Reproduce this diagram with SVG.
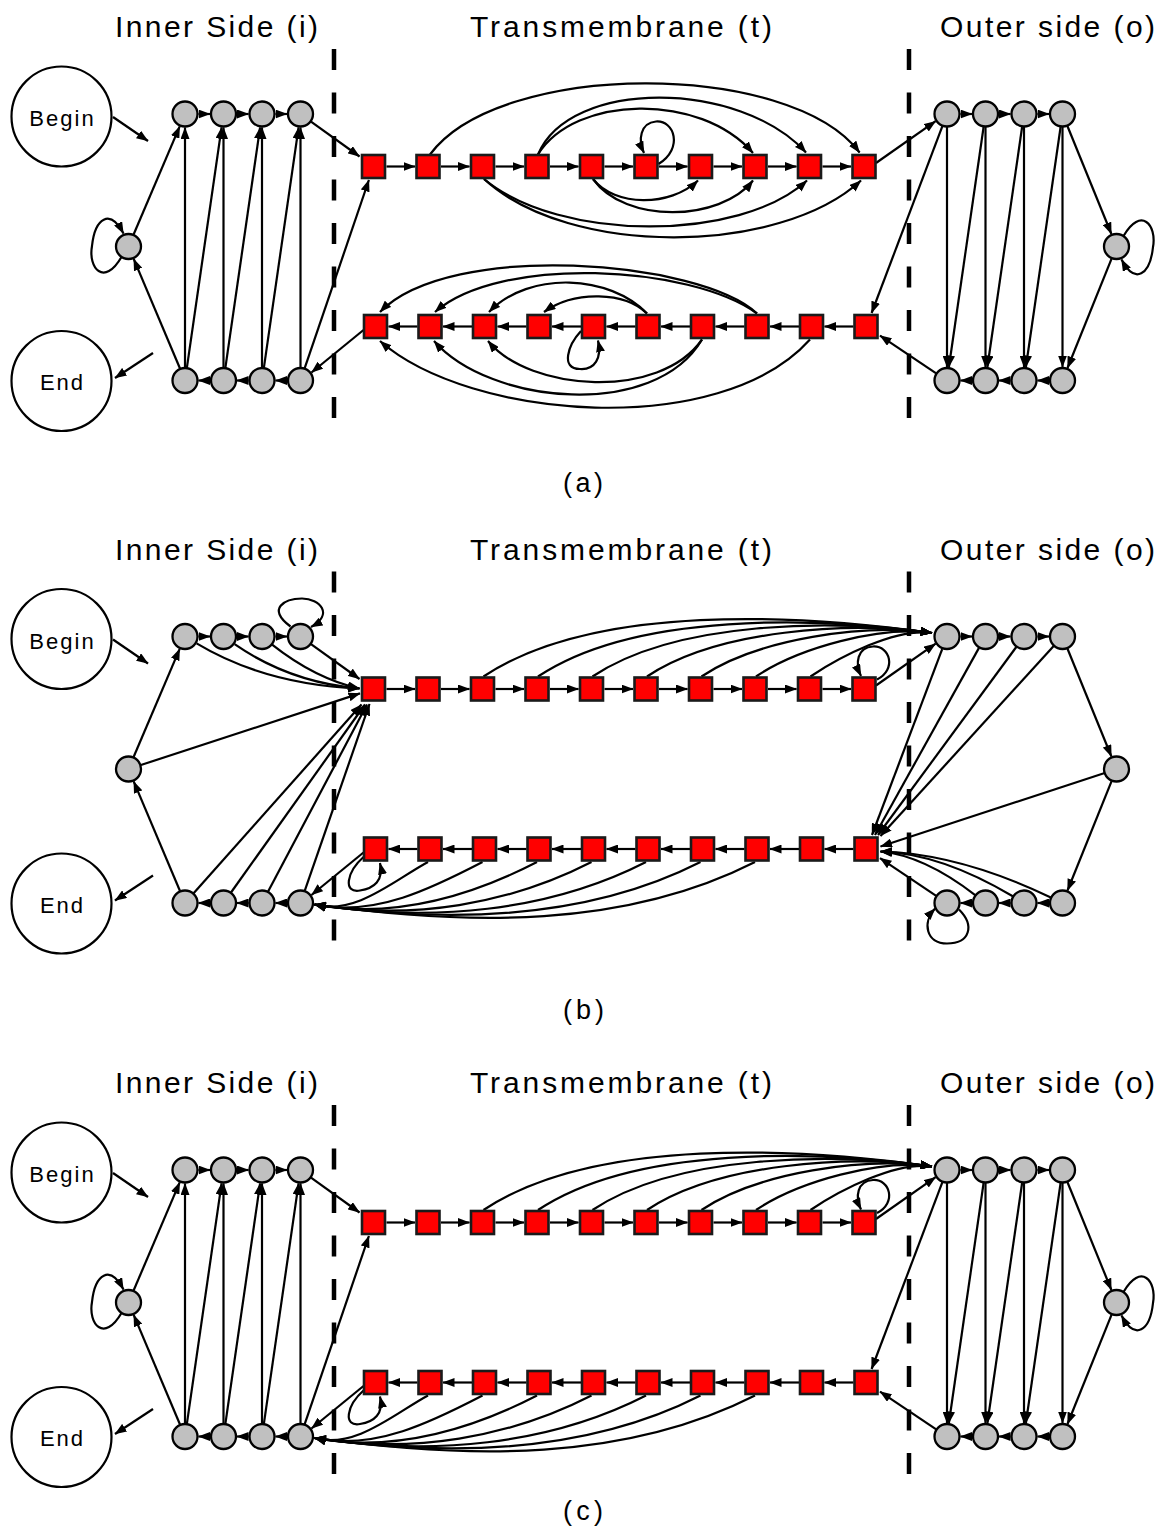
<svg xmlns="http://www.w3.org/2000/svg" width="1160" height="1527" viewBox="0 0 1160 1527">
<defs>
<marker id="ah" viewBox="0 0 12 9" refX="11.5" refY="4.5" markerWidth="12" markerHeight="9" markerUnits="userSpaceOnUse" orient="auto"><path d="M0,0 L12,4.5 L0,9 z" fill="#000"/></marker>
<style>
.e{fill:none;stroke:#000;stroke-width:2.2;marker-end:url(#ah)}
.c{fill:#c0c0c0;stroke:#000;stroke-width:2.3}
.s{fill:#f00;stroke:#1a1a1a;stroke-width:2.6}
.b{fill:#fff;stroke:#000;stroke-width:2.2}
.d{stroke:#000;stroke-width:4.5;stroke-dasharray:21 22.5}
.t{font-family:"Liberation Sans",Arial,sans-serif;fill:#000}
.h{font-size:30px}
.n{font-size:22px;letter-spacing:2px}
</style>
</defs>
<rect width="1160" height="1527" fill="#fff"/>

<!-- ===================== PANEL A ===================== -->
<g id="panel-a">
<line class="d" x1="334" y1="49" x2="334" y2="418"/>
<line class="d" x1="909" y1="49" x2="909" y2="418"/>
<text class="t h" x="115" y="37" textLength="203" lengthAdjust="spacing">Inner Side (i)</text>
<text class="t h" x="470" y="37" textLength="302" lengthAdjust="spacing">Transmembrane (t)</text>
<text class="t h" x="940" y="37" textLength="215" lengthAdjust="spacing">Outer side (o)</text>
<g id="a-edges">
<line class="e" x1="113" y1="117" x2="148" y2="141"/>
<line class="e" x1="153" y1="353" x2="115" y2="378"/>
<line class="e" x1="198.5" y1="114" x2="210" y2="114"/>
<line class="e" x1="237" y1="114" x2="248.5" y2="114"/>
<line class="e" x1="275.5" y1="114" x2="287" y2="114"/>
<line class="e" x1="210" y1="380.5" x2="198.5" y2="380.5"/>
<line class="e" x1="248.5" y1="380.5" x2="237" y2="380.5"/>
<line class="e" x1="287" y1="380.5" x2="275.5" y2="380.5"/>
<line class="e" x1="133.6" y1="234.5" x2="179.7" y2="126.4"/>
<line class="e" x1="180" y1="368.5" x2="133.7" y2="258.9"/>
<path class="e" d="M121.5,257 C104,287 88,268 92,246 C95,218 110,208 123.5,233.5"/>
<line class="e" x1="185" y1="367.5" x2="185" y2="127.5"/>
<line class="e" x1="223.5" y1="367.5" x2="223.5" y2="127.5"/>
<line class="e" x1="262" y1="367.5" x2="262" y2="127.5"/>
<line class="e" x1="300.5" y1="367.5" x2="300.5" y2="127.5"/>
<line class="e" x1="186.9" y1="367.6" x2="221.6" y2="127.4"/>
<line class="e" x1="225.4" y1="367.6" x2="260.1" y2="127.4"/>
<line class="e" x1="263.9" y1="367.6" x2="298.6" y2="127.4"/>
<line class="e" x1="304.7" y1="368.2" x2="368.9" y2="180"/>
<line class="e" x1="311" y1="121.6" x2="359.5" y2="156.5"/>
<line class="e" x1="363.5" y1="330" x2="311.5" y2="372.5"/>
<line class="e" x1="386.5" y1="166.5" x2="415" y2="166.5"/>
<line class="e" x1="441" y1="166.5" x2="469.5" y2="166.5"/>
<line class="e" x1="495.5" y1="166.5" x2="524" y2="166.5"/>
<line class="e" x1="550" y1="166.5" x2="578.5" y2="166.5"/>
<line class="e" x1="604.5" y1="166.5" x2="633" y2="166.5"/>
<line class="e" x1="659" y1="166.5" x2="687.5" y2="166.5"/>
<line class="e" x1="713.5" y1="166.5" x2="742" y2="166.5"/>
<line class="e" x1="768" y1="166.5" x2="796.5" y2="166.5"/>
<line class="e" x1="822.5" y1="166.5" x2="851" y2="166.5"/>
<path class="e" d="M430,154.5 C500,60 790,60 859.6,152.5"/>
<path class="e" d="M538,154.5 C570,78 740,80 806,152.5"/>
<path class="e" d="M538,154.5 C575,95 700,92 753,153"/>
<path class="e" d="M484,179 C560,242 740,242 807,180.5"/>
<path class="e" d="M484,179 C570,258 780,255 861,180.5"/>
<path class="e" d="M593,179 C615,207 670,207 698,180.5"/>
<path class="e" d="M593,179 C625,224 720,222 753,180.5"/>
<path class="e" d="M658.5,164 C684,148 674,120 656,121.5 C640,123 638,140 644,153"/>
<line class="e" x1="417.5" y1="326.5" x2="388.5" y2="326.5"/>
<line class="e" x1="472" y1="326.5" x2="443" y2="326.5"/>
<line class="e" x1="526.5" y1="326.5" x2="497.5" y2="326.5"/>
<line class="e" x1="581" y1="326.5" x2="552" y2="326.5"/>
<line class="e" x1="635.5" y1="326.5" x2="606.5" y2="326.5"/>
<line class="e" x1="690" y1="326.5" x2="661" y2="326.5"/>
<line class="e" x1="744.5" y1="326.5" x2="715.5" y2="326.5"/>
<line class="e" x1="799" y1="326.5" x2="770" y2="326.5"/>
<line class="e" x1="853.5" y1="326.5" x2="824.5" y2="326.5"/>
<path class="e" d="M757,313.5 C700,260 450,240 380,312"/>
<path class="e" d="M757,313.5 C690,265 500,255 435,312"/>
<path class="e" d="M647,313.5 C610,275 530,270 489,312"/>
<path class="e" d="M647,313.5 C625,292 575,290 544,312"/>
<path class="e" d="M702,339.5 C660,400 530,392 488,341"/>
<path class="e" d="M702,339.5 C655,420 490,405 434,341"/>
<path class="e" d="M810,339.5 C720,440 470,420 380,341"/>
<path class="e" d="M581,331 C568,345 560,369 580,369 C595,370 602,358 598,340.5"/>
<line class="e" x1="876" y1="163" x2="935.6" y2="121.2"/>
<line class="e" x1="942.4" y1="126.2" x2="871.6" y2="313"/>
<line class="e" x1="936.2" y1="373.3" x2="880" y2="335.6"/>
<line class="e" x1="960.5" y1="114" x2="972" y2="114"/>
<line class="e" x1="999" y1="114" x2="1010.5" y2="114"/>
<line class="e" x1="1037.5" y1="114" x2="1049" y2="114"/>
<line class="e" x1="972" y1="380.5" x2="960.5" y2="380.5"/>
<line class="e" x1="1010.5" y1="380.5" x2="999" y2="380.5"/>
<line class="e" x1="1049" y1="380.5" x2="1037.5" y2="380.5"/>
<line class="e" x1="947" y1="127" x2="947" y2="367"/>
<line class="e" x1="985.5" y1="127" x2="985.5" y2="367"/>
<line class="e" x1="1024" y1="127" x2="1024" y2="367"/>
<line class="e" x1="1062.5" y1="127" x2="1062.5" y2="367"/>
<line class="e" x1="983.6" y1="127" x2="948.9" y2="367"/>
<line class="e" x1="1022.1" y1="127" x2="987.4" y2="367"/>
<line class="e" x1="1060.6" y1="127" x2="1025.9" y2="367"/>
<line class="e" x1="1067.4" y1="126" x2="1111.4" y2="234"/>
<line class="e" x1="1111.6" y1="258.6" x2="1067.5" y2="368"/>
<path class="e" d="M1123.5,236 C1141,206 1157,225 1153,247 C1150,275 1135,285 1121.5,259.5"/>
</g>
<g id="a-nodes">
<g id="a-begin"><circle class="b" cx="61.5" cy="116.5" r="50"/><text class="t n" x="62.5" y="126" text-anchor="middle">Begin</text></g>
<g id="a-end"><circle class="b" cx="61.5" cy="381" r="50"/><text class="t n" x="62.5" y="390" text-anchor="middle">End</text></g>
<g id="a-i-top1"><circle class="c" cx="185" cy="114" r="12.5"/></g>
<g id="a-i-top2"><circle class="c" cx="223.5" cy="114" r="12.5"/></g>
<g id="a-i-top3"><circle class="c" cx="262" cy="114" r="12.5"/></g>
<g id="a-i-top4"><circle class="c" cx="300.5" cy="114" r="12.5"/></g>
<g id="a-i-mid"><circle class="c" cx="128.5" cy="246.5" r="12.5"/></g>
<g id="a-i-bot1"><circle class="c" cx="185" cy="380.5" r="12.5"/></g>
<g id="a-i-bot2"><circle class="c" cx="223.5" cy="380.5" r="12.5"/></g>
<g id="a-i-bot3"><circle class="c" cx="262" cy="380.5" r="12.5"/></g>
<g id="a-i-bot4"><circle class="c" cx="300.5" cy="380.5" r="12.5"/></g>
<g id="a-o-top1"><circle class="c" cx="947" cy="114" r="12.5"/></g>
<g id="a-o-top2"><circle class="c" cx="985.5" cy="114" r="12.5"/></g>
<g id="a-o-top3"><circle class="c" cx="1024" cy="114" r="12.5"/></g>
<g id="a-o-top4"><circle class="c" cx="1062.5" cy="114" r="12.5"/></g>
<g id="a-o-mid"><circle class="c" cx="1116.5" cy="246.5" r="12.5"/></g>
<g id="a-o-bot1"><circle class="c" cx="947" cy="380.5" r="12.5"/></g>
<g id="a-o-bot2"><circle class="c" cx="985.5" cy="380.5" r="12.5"/></g>
<g id="a-o-bot3"><circle class="c" cx="1024" cy="380.5" r="12.5"/></g>
<g id="a-o-bot4"><circle class="c" cx="1062.5" cy="380.5" r="12.5"/></g>
<g id="a-t-top1"><rect class="s" x="362" y="155" width="23" height="23"/></g>
<g id="a-t-top2"><rect class="s" x="416.5" y="155" width="23" height="23"/></g>
<g id="a-t-top3"><rect class="s" x="471" y="155" width="23" height="23"/></g>
<g id="a-t-top4"><rect class="s" x="525.5" y="155" width="23" height="23"/></g>
<g id="a-t-top5"><rect class="s" x="580" y="155" width="23" height="23"/></g>
<g id="a-t-top6"><rect class="s" x="634.5" y="155" width="23" height="23"/></g>
<g id="a-t-top7"><rect class="s" x="689" y="155" width="23" height="23"/></g>
<g id="a-t-top8"><rect class="s" x="743.5" y="155" width="23" height="23"/></g>
<g id="a-t-top9"><rect class="s" x="798" y="155" width="23" height="23"/></g>
<g id="a-t-top10"><rect class="s" x="852.5" y="155" width="23" height="23"/></g>
<g id="a-t-bot1"><rect class="s" x="364" y="315" width="23" height="23"/></g>
<g id="a-t-bot2"><rect class="s" x="418.5" y="315" width="23" height="23"/></g>
<g id="a-t-bot3"><rect class="s" x="473" y="315" width="23" height="23"/></g>
<g id="a-t-bot4"><rect class="s" x="527.5" y="315" width="23" height="23"/></g>
<g id="a-t-bot5"><rect class="s" x="582" y="315" width="23" height="23"/></g>
<g id="a-t-bot6"><rect class="s" x="636.5" y="315" width="23" height="23"/></g>
<g id="a-t-bot7"><rect class="s" x="691" y="315" width="23" height="23"/></g>
<g id="a-t-bot8"><rect class="s" x="745.5" y="315" width="23" height="23"/></g>
<g id="a-t-bot9"><rect class="s" x="800" y="315" width="23" height="23"/></g>
<g id="a-t-bot10"><rect class="s" x="854.5" y="315" width="23" height="23"/></g>
</g>
</g>
<text class="t" x="563" y="492" font-size="27" textLength="40" lengthAdjust="spacing">(a)</text>

<!-- ===================== PANEL B ===================== -->
<g id="panel-b" transform="translate(0,522.5)">
<line class="d" x1="334" y1="49" x2="334" y2="418"/>
<line class="d" x1="909" y1="49" x2="909" y2="418"/>
<text class="t h" x="115" y="37" textLength="203" lengthAdjust="spacing">Inner Side (i)</text>
<text class="t h" x="470" y="37" textLength="302" lengthAdjust="spacing">Transmembrane (t)</text>
<text class="t h" x="940" y="37" textLength="215" lengthAdjust="spacing">Outer side (o)</text>
<g id="b-edges">
<line class="e" x1="113" y1="117" x2="148" y2="141"/>
<line class="e" x1="153" y1="353" x2="115" y2="378"/>
<line class="e" x1="198.5" y1="114" x2="210" y2="114"/>
<line class="e" x1="237" y1="114" x2="248.5" y2="114"/>
<line class="e" x1="275.5" y1="114" x2="287" y2="114"/>
<line class="e" x1="210" y1="380.5" x2="198.5" y2="380.5"/>
<line class="e" x1="248.5" y1="380.5" x2="237" y2="380.5"/>
<line class="e" x1="287" y1="380.5" x2="275.5" y2="380.5"/>
<line class="e" x1="133.6" y1="234.5" x2="179.7" y2="126.4"/>
<line class="e" x1="180" y1="368.5" x2="133.7" y2="258.9"/>
<line class="e" x1="140.9" y1="242.5" x2="360" y2="170.9"/>
<path class="e" d="M196.6,120.9 Q265,162 359.5,166"/>
<path class="e" d="M234.6,121.7 Q290,160 359.5,166"/>
<path class="e" d="M271.8,121.8 Q315,156 359.5,166"/>
<line class="e" x1="311" y1="121.6" x2="359.5" y2="156.5"/>
<path class="e" d="M290.5,104 C266,86 285,76 302,76 C320,76 334,92 311,104.5"/>
<line class="e" x1="193.6" y1="370.8" x2="361.5" y2="182"/>
<line class="e" x1="231" y1="370" x2="365" y2="182"/>
<line class="e" x1="268.1" y1="369" x2="367" y2="182"/>
<line class="e" x1="304.8" y1="368.2" x2="369.5" y2="181.5"/>
<line class="e" x1="363.5" y1="330" x2="311.5" y2="372.5"/>
<path class="e" d="M364,334 C346,350 343,371 360,368 C374,366 384,358 380,340.5"/>
<path class="e" d="M428,339.5 C395.5,356.8 355.3,393.5 314.5,382"/>
<path class="e" d="M482.5,339.5 C433.7,364.9 374.3,395.1 314.5,382"/>
<path class="e" d="M537,339.5 C471.8,373.1 393.4,396.7 314.5,382"/>
<path class="e" d="M591.5,339.5 C510,381.3 412.5,398.4 314.5,382"/>
<path class="e" d="M646,339.5 C548.1,389.5 431.6,400 314.5,382"/>
<path class="e" d="M700.5,339.5 C586.3,397.6 450.6,401.6 314.5,382"/>
<path class="e" d="M755,339.5 C624.4,405.8 469.7,403.3 314.5,382"/>
<line class="e" x1="386.5" y1="166.5" x2="415" y2="166.5"/>
<line class="e" x1="441" y1="166.5" x2="469.5" y2="166.5"/>
<line class="e" x1="495.5" y1="166.5" x2="524" y2="166.5"/>
<line class="e" x1="550" y1="166.5" x2="578.5" y2="166.5"/>
<line class="e" x1="604.5" y1="166.5" x2="633" y2="166.5"/>
<line class="e" x1="659" y1="166.5" x2="687.5" y2="166.5"/>
<line class="e" x1="713.5" y1="166.5" x2="742" y2="166.5"/>
<line class="e" x1="768" y1="166.5" x2="796.5" y2="166.5"/>
<line class="e" x1="822.5" y1="166.5" x2="851" y2="166.5"/>
<path class="e" d="M483.5,154 C594.6,80.1 800.9,92.1 932,110.5"/>
<path class="e" d="M538,154 C635.5,89.1 816.7,94.2 932,110.5"/>
<path class="e" d="M592.5,154 C676.4,98.1 832.5,96.4 932,110.5"/>
<path class="e" d="M647,154 C717.3,107.2 848.4,98.6 932,110.5"/>
<path class="e" d="M701.5,154 C758.1,116.2 864.2,100.8 932,110.5"/>
<path class="e" d="M756,154 C799,125.3 880,103 932,110.5"/>
<path class="e" d="M810.5,154 C839.9,134.3 895.8,105.1 932,110.5"/>
<path class="e" d="M877,157 C897,147 890,123 873,124 C857,125 855,141 861,153.5"/>
<line class="e" x1="876" y1="163" x2="935.6" y2="121.2"/>
<line class="e" x1="417.5" y1="326.5" x2="388.5" y2="326.5"/>
<line class="e" x1="472" y1="326.5" x2="443" y2="326.5"/>
<line class="e" x1="526.5" y1="326.5" x2="497.5" y2="326.5"/>
<line class="e" x1="581" y1="326.5" x2="552" y2="326.5"/>
<line class="e" x1="635.5" y1="326.5" x2="606.5" y2="326.5"/>
<line class="e" x1="690" y1="326.5" x2="661" y2="326.5"/>
<line class="e" x1="744.5" y1="326.5" x2="715.5" y2="326.5"/>
<line class="e" x1="799" y1="326.5" x2="770" y2="326.5"/>
<line class="e" x1="853.5" y1="326.5" x2="824.5" y2="326.5"/>
<line class="e" x1="960.5" y1="114" x2="972" y2="114"/>
<line class="e" x1="999" y1="114" x2="1010.5" y2="114"/>
<line class="e" x1="1037.5" y1="114" x2="1049" y2="114"/>
<line class="e" x1="972" y1="380.5" x2="960.5" y2="380.5"/>
<line class="e" x1="1010.5" y1="380.5" x2="999" y2="380.5"/>
<line class="e" x1="1049" y1="380.5" x2="1037.5" y2="380.5"/>
<line class="e" x1="1067.4" y1="126" x2="1111.4" y2="234"/>
<line class="e" x1="1111.6" y1="258.6" x2="1067.5" y2="368"/>
<line class="e" x1="1104.7" y1="250.5" x2="880.5" y2="324"/>
<line class="e" x1="942.2" y1="126.6" x2="872" y2="312.5"/>
<line class="e" x1="979" y1="125.4" x2="875" y2="312.5"/>
<line class="e" x1="1016.3" y1="124.5" x2="878" y2="312.5"/>
<line class="e" x1="1053.7" y1="123.6" x2="880.5" y2="313.5"/>
<path class="e" d="M975.2,372.6 Q924,333 880.5,329"/>
<path class="e" d="M1012.8,373.8 Q941,331 880.5,329"/>
<path class="e" d="M1050.8,374.9 Q959,331 880.5,329"/>
<line class="e" x1="936.2" y1="373.3" x2="880" y2="335.6"/>
<path class="e" d="M959,387 C975,403 970,421 947,421 C926,421 922,400 935,386"/>
</g>
<g id="b-nodes">
<g id="b-begin"><circle class="b" cx="61.5" cy="116.5" r="50"/><text class="t n" x="62.5" y="126" text-anchor="middle">Begin</text></g>
<g id="b-end"><circle class="b" cx="61.5" cy="381" r="50"/><text class="t n" x="62.5" y="390" text-anchor="middle">End</text></g>
<g id="b-i-top1"><circle class="c" cx="185" cy="114" r="12.5"/></g>
<g id="b-i-top2"><circle class="c" cx="223.5" cy="114" r="12.5"/></g>
<g id="b-i-top3"><circle class="c" cx="262" cy="114" r="12.5"/></g>
<g id="b-i-top4"><circle class="c" cx="300.5" cy="114" r="12.5"/></g>
<g id="b-i-mid"><circle class="c" cx="128.5" cy="246.5" r="12.5"/></g>
<g id="b-i-bot1"><circle class="c" cx="185" cy="380.5" r="12.5"/></g>
<g id="b-i-bot2"><circle class="c" cx="223.5" cy="380.5" r="12.5"/></g>
<g id="b-i-bot3"><circle class="c" cx="262" cy="380.5" r="12.5"/></g>
<g id="b-i-bot4"><circle class="c" cx="300.5" cy="380.5" r="12.5"/></g>
<g id="b-o-top1"><circle class="c" cx="947" cy="114" r="12.5"/></g>
<g id="b-o-top2"><circle class="c" cx="985.5" cy="114" r="12.5"/></g>
<g id="b-o-top3"><circle class="c" cx="1024" cy="114" r="12.5"/></g>
<g id="b-o-top4"><circle class="c" cx="1062.5" cy="114" r="12.5"/></g>
<g id="b-o-mid"><circle class="c" cx="1116.5" cy="246.5" r="12.5"/></g>
<g id="b-o-bot1"><circle class="c" cx="947" cy="380.5" r="12.5"/></g>
<g id="b-o-bot2"><circle class="c" cx="985.5" cy="380.5" r="12.5"/></g>
<g id="b-o-bot3"><circle class="c" cx="1024" cy="380.5" r="12.5"/></g>
<g id="b-o-bot4"><circle class="c" cx="1062.5" cy="380.5" r="12.5"/></g>
<g id="b-t-top1"><rect class="s" x="362" y="155" width="23" height="23"/></g>
<g id="b-t-top2"><rect class="s" x="416.5" y="155" width="23" height="23"/></g>
<g id="b-t-top3"><rect class="s" x="471" y="155" width="23" height="23"/></g>
<g id="b-t-top4"><rect class="s" x="525.5" y="155" width="23" height="23"/></g>
<g id="b-t-top5"><rect class="s" x="580" y="155" width="23" height="23"/></g>
<g id="b-t-top6"><rect class="s" x="634.5" y="155" width="23" height="23"/></g>
<g id="b-t-top7"><rect class="s" x="689" y="155" width="23" height="23"/></g>
<g id="b-t-top8"><rect class="s" x="743.5" y="155" width="23" height="23"/></g>
<g id="b-t-top9"><rect class="s" x="798" y="155" width="23" height="23"/></g>
<g id="b-t-top10"><rect class="s" x="852.5" y="155" width="23" height="23"/></g>
<g id="b-t-bot1"><rect class="s" x="364" y="315" width="23" height="23"/></g>
<g id="b-t-bot2"><rect class="s" x="418.5" y="315" width="23" height="23"/></g>
<g id="b-t-bot3"><rect class="s" x="473" y="315" width="23" height="23"/></g>
<g id="b-t-bot4"><rect class="s" x="527.5" y="315" width="23" height="23"/></g>
<g id="b-t-bot5"><rect class="s" x="582" y="315" width="23" height="23"/></g>
<g id="b-t-bot6"><rect class="s" x="636.5" y="315" width="23" height="23"/></g>
<g id="b-t-bot7"><rect class="s" x="691" y="315" width="23" height="23"/></g>
<g id="b-t-bot8"><rect class="s" x="745.5" y="315" width="23" height="23"/></g>
<g id="b-t-bot9"><rect class="s" x="800" y="315" width="23" height="23"/></g>
<g id="b-t-bot10"><rect class="s" x="854.5" y="315" width="23" height="23"/></g>
</g>
</g>
<text class="t" x="563" y="1019" font-size="27" textLength="41" lengthAdjust="spacing">(b)</text>

<!-- ===================== PANEL C ===================== -->
<g id="panel-c" transform="translate(0,1056)">
<line class="d" x1="334" y1="49" x2="334" y2="418"/>
<line class="d" x1="909" y1="49" x2="909" y2="418"/>
<text class="t h" x="115" y="37" textLength="203" lengthAdjust="spacing">Inner Side (i)</text>
<text class="t h" x="470" y="37" textLength="302" lengthAdjust="spacing">Transmembrane (t)</text>
<text class="t h" x="940" y="37" textLength="215" lengthAdjust="spacing">Outer side (o)</text>
<g id="c-edges">
<line class="e" x1="113" y1="117" x2="148" y2="141"/>
<line class="e" x1="153" y1="353" x2="115" y2="378"/>
<line class="e" x1="198.5" y1="114" x2="210" y2="114"/>
<line class="e" x1="237" y1="114" x2="248.5" y2="114"/>
<line class="e" x1="275.5" y1="114" x2="287" y2="114"/>
<line class="e" x1="210" y1="380.5" x2="198.5" y2="380.5"/>
<line class="e" x1="248.5" y1="380.5" x2="237" y2="380.5"/>
<line class="e" x1="287" y1="380.5" x2="275.5" y2="380.5"/>
<line class="e" x1="133.6" y1="234.5" x2="179.7" y2="126.4"/>
<line class="e" x1="180" y1="368.5" x2="133.7" y2="258.9"/>
<path class="e" d="M121.5,257 C104,287 88,268 92,246 C95,218 110,208 123.5,233.5"/>
<line class="e" x1="185" y1="367.5" x2="185" y2="127.5"/>
<line class="e" x1="223.5" y1="367.5" x2="223.5" y2="127.5"/>
<line class="e" x1="262" y1="367.5" x2="262" y2="127.5"/>
<line class="e" x1="300.5" y1="367.5" x2="300.5" y2="127.5"/>
<line class="e" x1="186.9" y1="367.6" x2="221.6" y2="127.4"/>
<line class="e" x1="225.4" y1="367.6" x2="260.1" y2="127.4"/>
<line class="e" x1="263.9" y1="367.6" x2="298.6" y2="127.4"/>
<line class="e" x1="304.7" y1="368.2" x2="368.9" y2="180"/>
<line class="e" x1="311" y1="121.6" x2="359.5" y2="156.5"/>
<line class="e" x1="363.5" y1="330" x2="311.5" y2="372.5"/>
<path class="e" d="M364,334 C346,350 343,371 360,368 C374,366 384,358 380,340.5"/>
<path class="e" d="M428,339.5 C395.5,356.8 355.3,393.5 314.5,382"/>
<path class="e" d="M482.5,339.5 C433.7,364.9 374.3,395.1 314.5,382"/>
<path class="e" d="M537,339.5 C471.8,373.1 393.4,396.7 314.5,382"/>
<path class="e" d="M591.5,339.5 C510,381.3 412.5,398.4 314.5,382"/>
<path class="e" d="M646,339.5 C548.1,389.5 431.6,400 314.5,382"/>
<path class="e" d="M700.5,339.5 C586.3,397.6 450.6,401.6 314.5,382"/>
<path class="e" d="M755,339.5 C624.4,405.8 469.7,403.3 314.5,382"/>
<line class="e" x1="386.5" y1="166.5" x2="415" y2="166.5"/>
<line class="e" x1="441" y1="166.5" x2="469.5" y2="166.5"/>
<line class="e" x1="495.5" y1="166.5" x2="524" y2="166.5"/>
<line class="e" x1="550" y1="166.5" x2="578.5" y2="166.5"/>
<line class="e" x1="604.5" y1="166.5" x2="633" y2="166.5"/>
<line class="e" x1="659" y1="166.5" x2="687.5" y2="166.5"/>
<line class="e" x1="713.5" y1="166.5" x2="742" y2="166.5"/>
<line class="e" x1="768" y1="166.5" x2="796.5" y2="166.5"/>
<line class="e" x1="822.5" y1="166.5" x2="851" y2="166.5"/>
<path class="e" d="M483.5,154 C594.6,80.1 800.9,92.1 932,110.5"/>
<path class="e" d="M538,154 C635.5,89.1 816.7,94.2 932,110.5"/>
<path class="e" d="M592.5,154 C676.4,98.1 832.5,96.4 932,110.5"/>
<path class="e" d="M647,154 C717.3,107.2 848.4,98.6 932,110.5"/>
<path class="e" d="M701.5,154 C758.1,116.2 864.2,100.8 932,110.5"/>
<path class="e" d="M756,154 C799,125.3 880,103 932,110.5"/>
<path class="e" d="M810.5,154 C839.9,134.3 895.8,105.1 932,110.5"/>
<path class="e" d="M877,157 C897,147 890,123 873,124 C857,125 855,141 861,153.5"/>
<line class="e" x1="876" y1="163" x2="935.6" y2="121.2"/>
<line class="e" x1="417.5" y1="326.5" x2="388.5" y2="326.5"/>
<line class="e" x1="472" y1="326.5" x2="443" y2="326.5"/>
<line class="e" x1="526.5" y1="326.5" x2="497.5" y2="326.5"/>
<line class="e" x1="581" y1="326.5" x2="552" y2="326.5"/>
<line class="e" x1="635.5" y1="326.5" x2="606.5" y2="326.5"/>
<line class="e" x1="690" y1="326.5" x2="661" y2="326.5"/>
<line class="e" x1="744.5" y1="326.5" x2="715.5" y2="326.5"/>
<line class="e" x1="799" y1="326.5" x2="770" y2="326.5"/>
<line class="e" x1="853.5" y1="326.5" x2="824.5" y2="326.5"/>
<line class="e" x1="942.4" y1="126.2" x2="871.6" y2="313"/>
<line class="e" x1="936.2" y1="373.3" x2="880" y2="335.6"/>
<line class="e" x1="960.5" y1="114" x2="972" y2="114"/>
<line class="e" x1="999" y1="114" x2="1010.5" y2="114"/>
<line class="e" x1="1037.5" y1="114" x2="1049" y2="114"/>
<line class="e" x1="972" y1="380.5" x2="960.5" y2="380.5"/>
<line class="e" x1="1010.5" y1="380.5" x2="999" y2="380.5"/>
<line class="e" x1="1049" y1="380.5" x2="1037.5" y2="380.5"/>
<line class="e" x1="947" y1="127" x2="947" y2="367"/>
<line class="e" x1="985.5" y1="127" x2="985.5" y2="367"/>
<line class="e" x1="1024" y1="127" x2="1024" y2="367"/>
<line class="e" x1="1062.5" y1="127" x2="1062.5" y2="367"/>
<line class="e" x1="983.6" y1="127" x2="948.9" y2="367"/>
<line class="e" x1="1022.1" y1="127" x2="987.4" y2="367"/>
<line class="e" x1="1060.6" y1="127" x2="1025.9" y2="367"/>
<line class="e" x1="1067.4" y1="126" x2="1111.4" y2="234"/>
<line class="e" x1="1111.6" y1="258.6" x2="1067.5" y2="368"/>
<path class="e" d="M1123.5,236 C1141,206 1157,225 1153,247 C1150,275 1135,285 1121.5,259.5"/>
</g>
<g id="c-nodes">
<g id="c-begin"><circle class="b" cx="61.5" cy="116.5" r="50"/><text class="t n" x="62.5" y="126" text-anchor="middle">Begin</text></g>
<g id="c-end"><circle class="b" cx="61.5" cy="381" r="50"/><text class="t n" x="62.5" y="390" text-anchor="middle">End</text></g>
<g id="c-i-top1"><circle class="c" cx="185" cy="114" r="12.5"/></g>
<g id="c-i-top2"><circle class="c" cx="223.5" cy="114" r="12.5"/></g>
<g id="c-i-top3"><circle class="c" cx="262" cy="114" r="12.5"/></g>
<g id="c-i-top4"><circle class="c" cx="300.5" cy="114" r="12.5"/></g>
<g id="c-i-mid"><circle class="c" cx="128.5" cy="246.5" r="12.5"/></g>
<g id="c-i-bot1"><circle class="c" cx="185" cy="380.5" r="12.5"/></g>
<g id="c-i-bot2"><circle class="c" cx="223.5" cy="380.5" r="12.5"/></g>
<g id="c-i-bot3"><circle class="c" cx="262" cy="380.5" r="12.5"/></g>
<g id="c-i-bot4"><circle class="c" cx="300.5" cy="380.5" r="12.5"/></g>
<g id="c-o-top1"><circle class="c" cx="947" cy="114" r="12.5"/></g>
<g id="c-o-top2"><circle class="c" cx="985.5" cy="114" r="12.5"/></g>
<g id="c-o-top3"><circle class="c" cx="1024" cy="114" r="12.5"/></g>
<g id="c-o-top4"><circle class="c" cx="1062.5" cy="114" r="12.5"/></g>
<g id="c-o-mid"><circle class="c" cx="1116.5" cy="246.5" r="12.5"/></g>
<g id="c-o-bot1"><circle class="c" cx="947" cy="380.5" r="12.5"/></g>
<g id="c-o-bot2"><circle class="c" cx="985.5" cy="380.5" r="12.5"/></g>
<g id="c-o-bot3"><circle class="c" cx="1024" cy="380.5" r="12.5"/></g>
<g id="c-o-bot4"><circle class="c" cx="1062.5" cy="380.5" r="12.5"/></g>
<g id="c-t-top1"><rect class="s" x="362" y="155" width="23" height="23"/></g>
<g id="c-t-top2"><rect class="s" x="416.5" y="155" width="23" height="23"/></g>
<g id="c-t-top3"><rect class="s" x="471" y="155" width="23" height="23"/></g>
<g id="c-t-top4"><rect class="s" x="525.5" y="155" width="23" height="23"/></g>
<g id="c-t-top5"><rect class="s" x="580" y="155" width="23" height="23"/></g>
<g id="c-t-top6"><rect class="s" x="634.5" y="155" width="23" height="23"/></g>
<g id="c-t-top7"><rect class="s" x="689" y="155" width="23" height="23"/></g>
<g id="c-t-top8"><rect class="s" x="743.5" y="155" width="23" height="23"/></g>
<g id="c-t-top9"><rect class="s" x="798" y="155" width="23" height="23"/></g>
<g id="c-t-top10"><rect class="s" x="852.5" y="155" width="23" height="23"/></g>
<g id="c-t-bot1"><rect class="s" x="364" y="315" width="23" height="23"/></g>
<g id="c-t-bot2"><rect class="s" x="418.5" y="315" width="23" height="23"/></g>
<g id="c-t-bot3"><rect class="s" x="473" y="315" width="23" height="23"/></g>
<g id="c-t-bot4"><rect class="s" x="527.5" y="315" width="23" height="23"/></g>
<g id="c-t-bot5"><rect class="s" x="582" y="315" width="23" height="23"/></g>
<g id="c-t-bot6"><rect class="s" x="636.5" y="315" width="23" height="23"/></g>
<g id="c-t-bot7"><rect class="s" x="691" y="315" width="23" height="23"/></g>
<g id="c-t-bot8"><rect class="s" x="745.5" y="315" width="23" height="23"/></g>
<g id="c-t-bot9"><rect class="s" x="800" y="315" width="23" height="23"/></g>
<g id="c-t-bot10"><rect class="s" x="854.5" y="315" width="23" height="23"/></g>
</g>
</g>
<text class="t" x="563" y="1520" font-size="27" textLength="40" lengthAdjust="spacing">(c)</text>
</svg>
